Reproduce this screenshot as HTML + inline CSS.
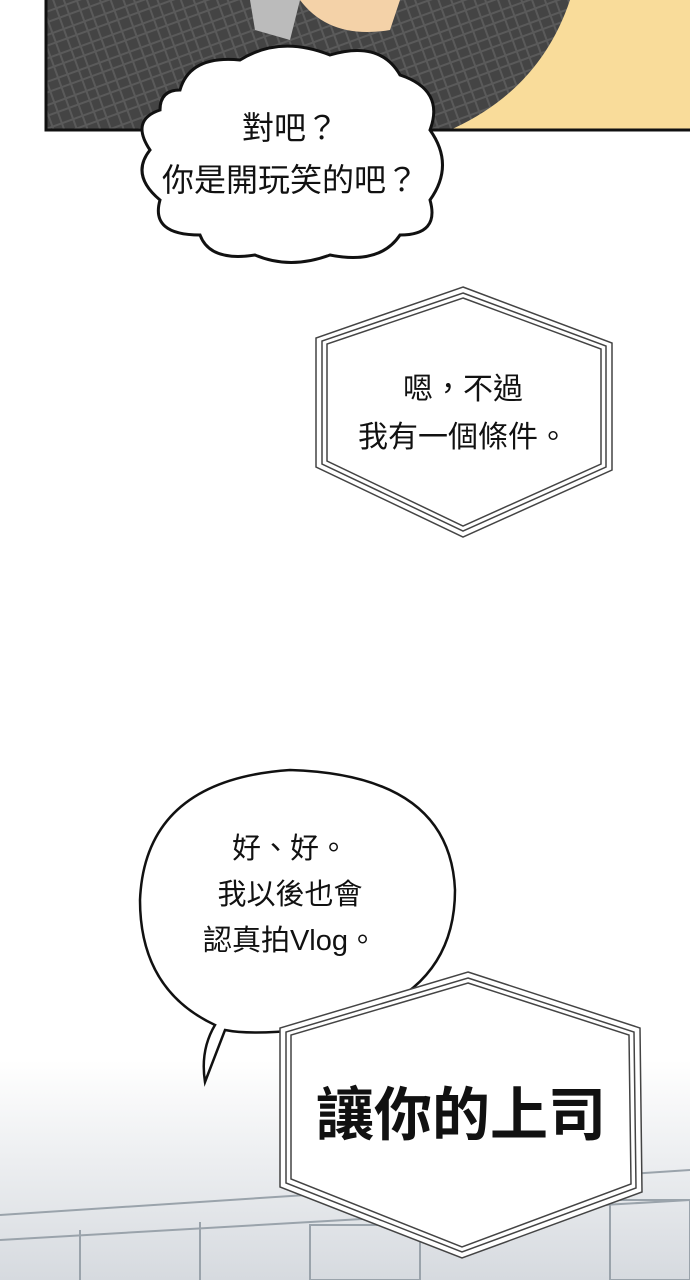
<!DOCTYPE html>
<html><head><meta charset="utf-8"><style>
html,body{margin:0;padding:0;background:#fff}
body{width:690px;height:1280px;position:relative;overflow:hidden;font-family:"Liberation Sans","Noto Sans CJK TC",sans-serif}
.t{position:absolute;text-align:center;color:#111;white-space:nowrap}
</style></head><body>
<svg width="690" height="1280" style="position:absolute;left:0;top:0">
<defs>
<linearGradient id="bg" x1="0" y1="0" x2="0" y2="1">
<stop offset="0" stop-color="#fff"/><stop offset="1" stop-color="#d6dadf"/></linearGradient>
<pattern id="pl" width="22" height="22" patternUnits="userSpaceOnUse" patternTransform="rotate(-20)">
<rect width="22" height="22" fill="#444"/><path d="M0 5H22M0 15H22M6 0V22M16 0V22" stroke="#5a5a5a" stroke-width="2"/></pattern>
</defs>
<rect x="46" y="0" width="650" height="130" fill="url(#pl)"/>
<path d="M560 0 L690 0 L690 130 L450 130 Q540 90 570 0Z" fill="#f9dc9a"/>
<path d="M300 0 Q330 40 390 30 L400 0Z" fill="#f4d2a8"/>
<path d="M250 0 L300 0 L290 40 L255 30Z" fill="#bbb"/>
<path d="M46 0V130H690" fill="none" stroke="#111" stroke-width="3"/>
<path d="M180 90 Q190 55 240 60 Q280 35 330 55 Q380 40 400 75 Q445 90 430 130 Q455 165 430 200 Q440 235 400 235 Q380 265 330 255 Q290 270 255 255 Q210 262 200 235 Q150 235 160 200 Q130 175 150 150 Q130 120 160 110 Q160 90 180 90Z" fill="#fff" stroke="#111" stroke-width="3"/>
<g fill="none" stroke="#444" stroke-width="1.5">
<polygon points="463,287 612,343 612,470 463,537 316,467 316,338" fill="#fff"/>
<polygon points="463,293 606,346 606,467 463,531 322,464 322,341"/>
<polygon points="463,298 601,349 601,464 463,526 327,461 327,344"/>
</g>
<rect x="0" y="1060" width="690" height="220" fill="url(#bg)"/>
<g fill="none" stroke="#9aa3ab" stroke-width="2">
<path d="M0 1215 L690 1170"/><path d="M0 1240 L690 1200"/>
<rect x="310" y="1225" width="110" height="55"/><rect x="610" y="1200" width="80" height="80"/>
<path d="M80 1230V1280M200 1222V1280"/>
</g>
<path d="M215 1025 Q140 990 140 900 Q145 780 290 770 Q450 775 455 890 Q455 1010 300 1030 Q250 1035 225 1030 L205 1082 Q200 1050 215 1025Z" fill="#fff" stroke="#111" stroke-width="2.5"/>
<g fill="none" stroke="#444" stroke-width="1.5">
<polygon points="468,972 640,1028 642,1192 462,1258 280,1187 280,1028" fill="#fff"/>
<polygon points="468,978 634,1032 636,1188 462,1252 286,1183 286,1032"/>
<polygon points="468,983 629,1035 631,1184 462,1247 291,1179 291,1035"/>
</g>
</svg>
<div class="t" style="left:140px;width:300px;top:102px;font-size:32px;line-height:52px">對吧？<br>你是開玩笑的吧？</div>
<div class="t" style="left:313px;width:300px;top:366px;font-size:30px;line-height:48px">嗯，不過<br>我有一個條件。</div>
<div class="t" style="left:140px;width:300px;top:826px;font-size:29px;line-height:46px">好、好。<br>我以後也會<br>認真拍Vlog。</div>
<div class="t" style="left:282px;width:358px;top:1082px;font-size:58px;font-weight:bold;line-height:68px">讓你的上司</div>
</body></html>
